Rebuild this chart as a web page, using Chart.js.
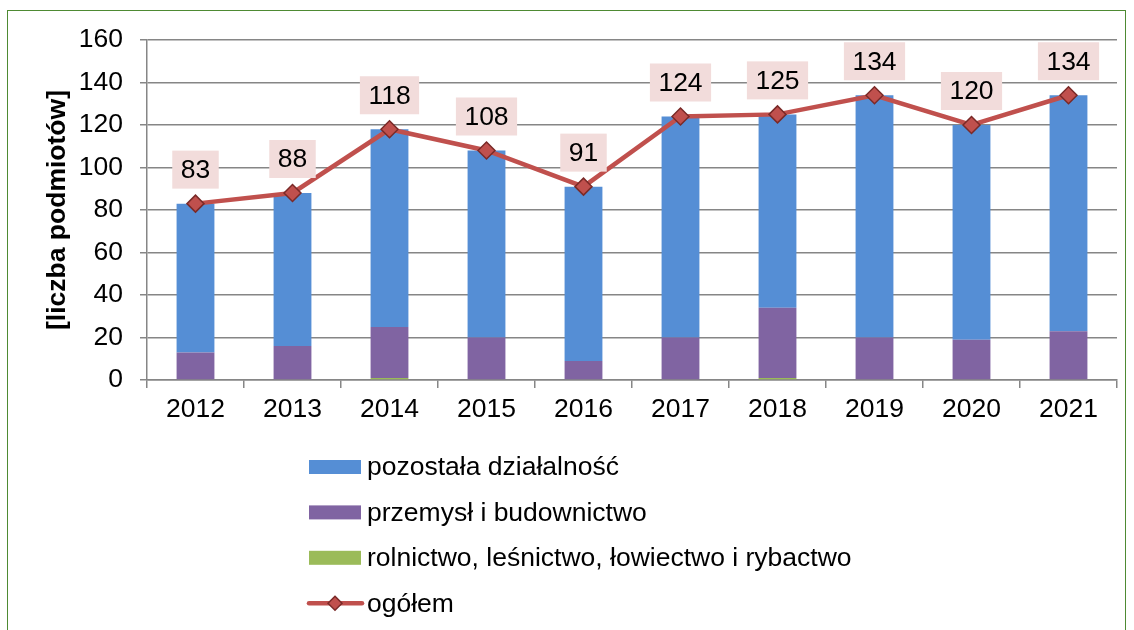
<!DOCTYPE html>
<html>
<head>
<meta charset="utf-8">
<script src="https://cdn.jsdelivr.net/npm/chart.js@4.4.0/dist/chart.umd.min.js"></script>
<style>
html, body { margin: 0; padding: 0; background: #fff; }
#wrap { position: relative; width: 1134px; height: 630px; overflow: hidden; }
#frame { position: absolute; left: 7px; top: 10px; width: 1119px; height: 660px; border: 1.5px solid #4e8a33; box-sizing: border-box; }
canvas { position: absolute; left: 0; top: 0; }
</style>
</head>
<body>
<div id="wrap">
  <div id="frame"></div>
  <canvas id="chart" width="1134" height="630"></canvas>
</div>
<script>
const years = ['2012', '2013', '2014', '2015', '2016', '2017', '2018', '2019', '2020', '2021'];
const rolnictwo = [0, 0, 1, 0, 0, 0, 1, 0, 0, 0];
const przemysl = [13, 16, 24, 20, 9, 20, 33, 20, 19, 23];
const pozostala = [70, 72, 93, 88, 82, 104, 91, 114, 101, 111];
const ogolem = [83, 88, 118, 108, 91, 124, 125, 134, 120, 134];
const yMin = 0, yMax = 160, yStep = 20;

const FONT = '"Liberation Sans", Arial, sans-serif';
const FS = 26.5;
const GRID = '#868686';

// pink value boxes above the line points
const valueBoxes = {
  id: 'valueBoxes',
  afterDatasetsDraw(chart) {
    const meta = chart.getDatasetMeta(3);
    const ctx = chart.ctx;
    ctx.save();
    ctx.font = FS + 'px ' + FONT;
    ctx.textAlign = 'center';
    ctx.textBaseline = 'middle';
    meta.data.forEach((pt, i) => {
      const txt = String(ogolem[i]);
      const w = ctx.measureText(txt).width + 17;
      const h = 38;
      const cy = pt.y - 34;
      ctx.fillStyle = '#f2dcdb';
      ctx.fillRect(pt.x - w / 2, cy - h / 2, w, h);
      ctx.fillStyle = '#000';
      ctx.fillText(txt, pt.x, cy + 1);
    });
    ctx.restore();
  }
};

// vertical legend under the chart
const listLegend = {
  id: 'listLegend',
  afterDraw(chart) {
    const ctx = chart.ctx;
    const order = [2, 1, 0, 3];
    ctx.save();
    ctx.font = FS + 'px ' + FONT;
    ctx.textBaseline = 'middle';
    ctx.textAlign = 'left';
    order.forEach((di, k) => {
      const ds = chart.data.datasets[di];
      const y = 467 + k * 45.4;
      if (ds.type === 'line') {
        ctx.strokeStyle = ds.borderColor;
        ctx.lineWidth = ds.borderWidth;
        ctx.lineCap = 'round';
        ctx.beginPath();
        ctx.moveTo(309, y);
        ctx.lineTo(362, y);
        ctx.stroke();
        const r = 7;
        ctx.beginPath();
        ctx.moveTo(335, y - r);
        ctx.lineTo(335 + r, y);
        ctx.lineTo(335, y + r);
        ctx.lineTo(335 - r, y);
        ctx.closePath();
        ctx.fillStyle = ds.pointBackgroundColor;
        ctx.fill();
        ctx.lineWidth = 1.5;
        ctx.strokeStyle = ds.pointBorderColor;
        ctx.stroke();
      } else {
        ctx.fillStyle = ds.backgroundColor;
        ctx.fillRect(309, y - 7, 52, 14);
      }
      ctx.fillStyle = '#000';
      ctx.fillText(ds.label, 367, y + 1);
    });
    ctx.restore();
  }
};

new Chart(document.getElementById('chart'), {
  type: 'bar',
  data: {
    labels: years,
    datasets: [
      {
        label: 'rolnictwo, leśnictwo, łowiectwo i rybactwo',
        data: rolnictwo,
        backgroundColor: '#9bbb59',
        order: 1
      },
      {
        label: 'przemysł i budownictwo',
        data: przemysl,
        backgroundColor: '#8064a2',
        order: 1
      },
      {
        label: 'pozostała działalność',
        data: pozostala,
        backgroundColor: '#558ed5',
        order: 1
      },
      {
        type: 'line',
        label: 'ogółem',
        data: ogolem,
        stack: 'total',
        borderColor: '#c0504d',
        borderWidth: 4.5,
        pointStyle: 'rectRot',
        pointRadius: 8.5,
        pointBackgroundColor: '#c0504d',
        pointBorderColor: '#7a2a28',
        pointBorderWidth: 1.5,
        tension: 0,
        order: 0
      }
    ]
  },
  options: {
    responsive: false,
    animation: false,
    events: [],
    barPercentage: 0.39,
    categoryPercentage: 1,
    layout: { padding: { left: 42, top: 40, right: 17, bottom: 190 } },
    plugins: {
      legend: { display: false },
      tooltip: { enabled: false }
    },
    scales: {
      x: {
        stacked: true,
        grid: { drawOnChartArea: false, color: GRID, lineWidth: 1.5, tickLength: 8 },
        border: { color: GRID, width: 1.5 },
        ticks: { color: '#000', font: { size: FS, family: FONT }, padding: 6, maxRotation: 0 },
        afterFit(s) { s.height = 60; }
      },
      y: {
        stacked: true,
        min: yMin,
        max: yMax,
        ticks: { stepSize: yStep, color: '#000', font: { size: FS, family: FONT }, padding: 17 },
        grid: { color: GRID, lineWidth: 1.5, tickLength: 7 },
        border: { color: GRID, width: 1.5 },
        title: {
          display: true,
          text: '[liczba podmiotów]',
          color: '#000',
          font: { size: FS, weight: 'bold', family: FONT },
          padding: { top: 0, bottom: 0 }
        },
        afterFit(s) { s.width = 105; }
      }
    }
  },
  plugins: [valueBoxes, listLegend]
});
</script>
</body>
</html>
